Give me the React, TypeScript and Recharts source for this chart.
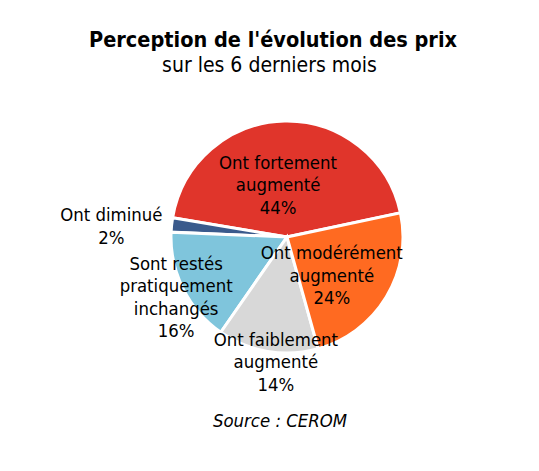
import React from 'react';
import {PieChart, Pie, Cell} from 'recharts';

const categories = [
  ['Ont fortement', 'augmenté'],
  ['Ont diminué'],
  ['Sont restés', 'pratiquement', 'inchangés'],
  ['Ont faiblement', 'augmenté'],
  ['Ont modérément', 'augmenté'],
];
const shares = [44, 2, 16, 14, 24];
const colors = ['#E0352B', '#3A5A8C', '#7FC5DC', '#D8D8D8', '#FF6A21'];

// label block placement: distance from the pie centre and a small turn off the slice mid-angle
const labelDist = [53, 176, 126, 125, 59];
const labelTurn = [8.5, 2.4, 2, 4.5, -9.4];

const FONT = '"DejaVu Sans Condensed", "DejaVu Sans", Tahoma, sans-serif';
const RADIAN = Math.PI / 180;

const chartData = categories.map((lines, i) => ({name: lines.join(' '), value: shares[i]}));

const renderLabel = (props: any) => {
  const {cx, cy, midAngle, index} = props;
  const r = labelDist[index];
  const a = midAngle + labelTurn[index];
  const x = cx + r * Math.cos(-a * RADIAN);
  const y = cy + r * Math.sin(-a * RADIAN);
  const lines = [...categories[index], `${shares[index]}%`];
  const lh = 22.5;
  const y0 = y - ((lines.length - 1) / 2) * lh + 6.5;
  return (
    <text key={`lbl-${index}`} x={x} y={y0} textAnchor="middle" fill="#000" fontSize={18.4} fontFamily={FONT}>
      {lines.map((t, i) => (
        <tspan key={i} x={x} y={y0 + i * lh}>{t}</tspan>
      ))}
    </text>
  );
};

export default function App() {
  return (
    <div style={{position: 'absolute', left: 0, top: 0, width: 539, height: 471, background: '#fff', fontFamily: FONT}}>
      <div style={{position: 'absolute', left: 0, width: 546, top: 27, textAlign: 'center', fontSize: 21.5, fontWeight: 'bold', lineHeight: '26px'}}>
        Perception de l'évolution des prix
      </div>
      <div style={{position: 'absolute', left: 0, width: 539, top: 53, textAlign: 'center', fontSize: 21, lineHeight: '24px'}}>
        sur les 6 derniers mois
      </div>
      <div style={{position: 'absolute', left: 0, top: 0}}>
        <PieChart width={539} height={471} margin={{top: 0, right: 0, bottom: 0, left: 0}}>
          <Pie
            data={chartData}
            dataKey="value"
            cx={287}
            cy={237}
            outerRadius={116}
            startAngle={12}
            endAngle={372}
            stroke="#fff"
            strokeWidth={3}
            label={renderLabel}
            labelLine={false}
            isAnimationActive={false}
          >
            {chartData.map((entry, index) => (
              <Cell key={`cell-${index}`} fill={colors[index]} />
            ))}
          </Pie>
        </PieChart>
      </div>
      <div style={{position: 'absolute', left: 0, width: 560, top: 410, textAlign: 'center', fontSize: 18.4, fontStyle: 'italic', lineHeight: '22px'}}>
        Source : CEROM
      </div>
    </div>
  );
}
